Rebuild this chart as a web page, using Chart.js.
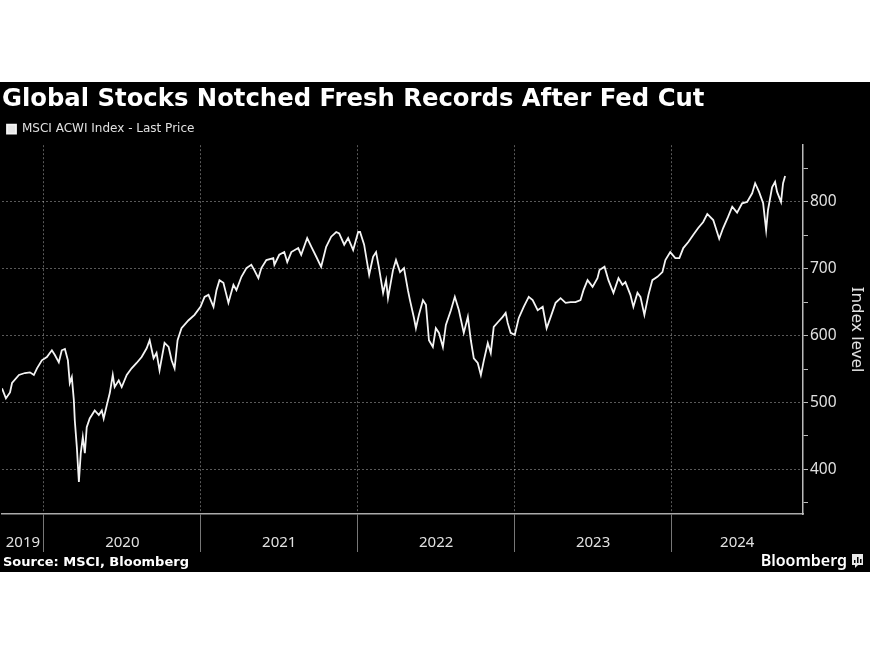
<!DOCTYPE html>
<html>
<head>
<meta charset="utf-8">
<title>Global Stocks Notched Fresh Records After Fed Cut</title>
<script src="https://cdn.jsdelivr.net/npm/chart.js@4.4.1/dist/chart.umd.min.js"></script>
<style>
  html, body { margin: 0; padding: 0; background: #fff; }
  canvas { display: block; }
</style>
</head>
<body>
<canvas id="chart" width="870" height="653"></canvas>
<script>
// MSCI ACWI Index - Last Price (decimal year / index level)
var dates = [
  2019.733, 2019.758, 2019.784, 2019.797, 2019.841, 2019.879, 2019.911, 2019.936, 2019.956, 2019.987,
  2020.019, 2020.051, 2020.070, 2020.095, 2020.114, 2020.134, 2020.153, 2020.165, 2020.178, 2020.191,
  2020.197, 2020.210, 2020.223, 2020.235, 2020.248, 2020.261, 2020.273, 2020.292, 2020.324, 2020.350,
  2020.369, 2020.381, 2020.401, 2020.420, 2020.439, 2020.451, 2020.477, 2020.496, 2020.528, 2020.559,
  2020.591, 2020.623, 2020.655, 2020.674, 2020.699, 2020.718, 2020.737, 2020.769, 2020.795, 2020.814,
  2020.833, 2020.852, 2020.877, 2020.922, 2020.960, 2020.998,
  2021.024, 2021.049, 2021.081, 2021.100, 2021.119, 2021.144, 2021.176, 2021.208, 2021.227, 2021.259,
  2021.291, 2021.322, 2021.341, 2021.367, 2021.386, 2021.418, 2021.462, 2021.469, 2021.500, 2021.532,
  2021.551, 2021.577, 2021.621, 2021.640, 2021.678, 2021.704, 2021.736, 2021.767, 2021.799, 2021.831,
  2021.863, 2021.882, 2021.914, 2021.939, 2021.971, 2022.003, 2022.015,
  2022.041, 2022.073, 2022.098, 2022.117, 2022.136, 2022.162, 2022.181, 2022.193, 2022.225, 2022.244,
  2022.270, 2022.295, 2022.320, 2022.333, 2022.359, 2022.371, 2022.390, 2022.416, 2022.435, 2022.454,
  2022.479, 2022.498, 2022.518, 2022.543, 2022.562, 2022.594, 2022.619, 2022.645, 2022.676, 2022.702,
  2022.721, 2022.740, 2022.765, 2022.785, 2022.804, 2022.829, 2022.848, 2022.867, 2022.893, 2022.924,
  2022.943, 2022.956, 2022.975, 2023.001,
  2023.026, 2023.058, 2023.090, 2023.115, 2023.147, 2023.179, 2023.204, 2023.230, 2023.261, 2023.293,
  2023.325, 2023.357, 2023.388, 2023.420, 2023.439, 2023.465, 2023.497, 2023.528, 2023.541, 2023.573,
  2023.598, 2023.630, 2023.662, 2023.687, 2023.706, 2023.738, 2023.757, 2023.783, 2023.802, 2023.827,
  2023.853, 2023.878, 2023.910, 2023.942, 2023.961, 2023.992,
  2024.024, 2024.050, 2024.075, 2024.107, 2024.139, 2024.170, 2024.202, 2024.228, 2024.266, 2024.304,
  2024.329, 2024.361, 2024.387, 2024.418, 2024.450, 2024.482, 2024.514, 2024.533, 2024.558, 2024.584,
  2024.603, 2024.615, 2024.641, 2024.660, 2024.673, 2024.698, 2024.711, 2024.724
];
var prices = [
  521, 506, 515, 529, 541, 544, 545, 541, 551, 563,
  568, 578, 571, 560, 578, 580, 563, 529, 538, 503,
  473, 433, 381, 424, 448, 424, 463, 476, 488, 481,
  488, 476, 496, 514, 541, 523, 533, 523, 541, 551,
  559, 568, 581, 593, 566, 574, 548, 589, 583, 563,
  551, 593, 611, 623, 631, 643,
  658, 661, 643, 668, 683, 679, 649, 676, 668, 688,
  701, 706, 698, 686, 701, 713, 716, 706, 721, 725,
  710, 725, 731, 721, 746, 733, 718, 703, 733, 748,
  755, 753, 736, 746, 728, 755, 755,
  736, 691, 718, 725, 701, 664, 683, 656, 698, 713,
  695, 701, 668, 653, 626, 611, 631, 653, 646, 593,
  583, 611, 604, 583, 616, 638, 658, 638, 604, 628,
  593, 566, 559, 541, 563, 589, 574, 613, 620, 628,
  634, 619, 604, 601,
  626, 643, 658, 653, 638, 643, 611, 628, 649, 656,
  649, 650, 650, 653, 668, 683, 673, 686, 698, 703,
  683, 664, 686, 676, 680, 661, 643, 664, 658, 631,
  661, 683, 688, 695, 713, 725,
  716, 716, 731, 740, 751, 761, 770, 782, 773, 745,
  761, 778, 793, 784, 798, 800, 813, 828, 815, 798,
  758, 788, 822, 830, 815, 800, 828, 839
];
var years = [2019, 2020, 2021, 2022, 2023, 2024];
var yTicks = [350, 400, 450, 500, 550, 600, 650, 700, 750, 800, 850];

var xMin = 2019.733;
var xMax = 2024.838;

// year labels sit in the middle of the visible part of each year
var labelAt = new Map();
years.forEach(function (y) {
  var from = Math.max(y, xMin);
  var to = Math.min(y + 1, xMax);
  labelAt.set((from + to) / 2, String(y));
});

var points = dates.map(function (d, i) {
  return { x: d, y: prices[i] };
});

// black panel behind the chart, plus source line and logo
var panelPlugin = {
  id: 'panel',
  beforeDraw: function (chart) {
    var ctx = chart.ctx;
    ctx.save();
    ctx.fillStyle = '#000';
    ctx.fillRect(0, 82, chart.width, 490);
    ctx.restore();
  },
  afterDraw: function (chart) {
    var ctx = chart.ctx;
    ctx.save();
    ctx.fillStyle = '#fff';
    ctx.textBaseline = 'middle';
    ctx.font = 'bold 13px "DejaVu Sans"';
    ctx.fillText('Source: MSCI, Bloomberg', 3, 563);
    ctx.textAlign = 'right';
    ctx.font = '600 16px "Noto Sans"';
    ctx.fillText('Bloomberg', 847, 561);
    // little logo box
    ctx.fillStyle = '#e8e8e8';
    ctx.fillRect(852, 554, 11, 11);
    ctx.beginPath();
    ctx.moveTo(855, 565);
    ctx.lineTo(858, 565);
    ctx.lineTo(855, 568);
    ctx.fill();
    ctx.fillStyle = '#000';
    ctx.fillRect(854, 560, 1.5, 3);
    ctx.fillRect(857, 557, 1.5, 6);
    ctx.fillRect(860, 559, 1.5, 4);
    ctx.restore();
  }
};

new Chart(document.getElementById('chart'), {
  type: 'line',
  data: {
    datasets: [{
      label: 'MSCI ACWI Index - Last Price',
      data: points,
      borderColor: '#f4f4f4',
      backgroundColor: '#e6e6e6',
      borderWidth: 1.8,
      pointRadius: 0,
      tension: 0
    }]
  },
  options: {
    responsive: false,
    animation: false,
    events: [],
    layout: { padding: { top: 82, left: 2, right: 0, bottom: 0 } },
    plugins: {
      title: {
        display: true,
        text: 'Global Stocks Notched Fresh Records After Fed Cut',
        align: 'start',
        color: '#fff',
        font: { family: 'DejaVu Sans', size: 24.3, weight: 'bold' },
        padding: { top: 3, bottom: 4 }
      },
      legend: {
        display: true,
        align: 'start',
        labels: {
          color: '#e0e0e0',
          font: { family: 'DejaVu Sans', size: 12 },
          boxWidth: 9,
          boxHeight: 9,
          padding: 5
        }
      },
      tooltip: { enabled: false }
    },
    scales: {
      x: {
        type: 'linear',
        min: xMin,
        max: xMax,
        afterBuildTicks: function (scale) {
          var vals = years.filter(function (y) { return y > xMin && y < xMax; });
          labelAt.forEach(function (txt, v) { vals.push(v); });
          vals.sort(function (a, b) { return a - b; });
          scale.ticks = vals.map(function (v) { return { value: v }; });
        },
        afterFit: function (scale) { scale.height = 139; },
        ticks: {
          autoSkip: false,
          maxRotation: 0,
          color: '#e0e0e0',
          font: { family: 'Noto Sans', size: 15 },
          padding: -18,
          callback: function (value) {
            return labelAt.has(value) ? labelAt.get(value) : '';
          }
        },
        grid: {
          color: function (c) {
            return c.tick && Number.isInteger(c.tick.value) ? 'rgba(255,255,255,0.35)' : 'rgba(0,0,0,0)';
          },
          tickColor: function (c) {
            return c.tick && Number.isInteger(c.tick.value) ? '#777' : 'rgba(0,0,0,0)';
          },
          tickLength: 38
        },
        border: { color: '#aaa', width: 1.5, dash: [2, 2] }
      },
      y: {
        position: 'right',
        min: 333,
        max: 885,
        afterBuildTicks: function (scale) {
          scale.ticks = yTicks.map(function (v) { return { value: v }; });
        },
        afterFit: function (scale) { scale.width = 67; },
        ticks: {
          color: '#e0e0e0',
          font: { family: 'Noto Sans', size: 15.5 },
          padding: 2,
          callback: function (value) {
            return value % 100 === 0 ? value : '';
          }
        },
        grid: {
          color: function (c) {
            return c.tick && c.tick.value % 100 === 0 ? 'rgba(255,255,255,0.35)' : 'rgba(0,0,0,0)';
          },
          tickColor: '#bbb',
          tickLength: 5
        },
        border: { color: '#bbb', width: 1.5, dash: [2, 2] },
        title: {
          display: true,
          text: 'Index level',
          color: '#e0e0e0',
          font: { family: 'Noto Sans', size: 17 },
          padding: { top: 3, bottom: 0 }
        }
      }
    }
  },
  plugins: [panelPlugin]
});
</script>
</body>
</html>
